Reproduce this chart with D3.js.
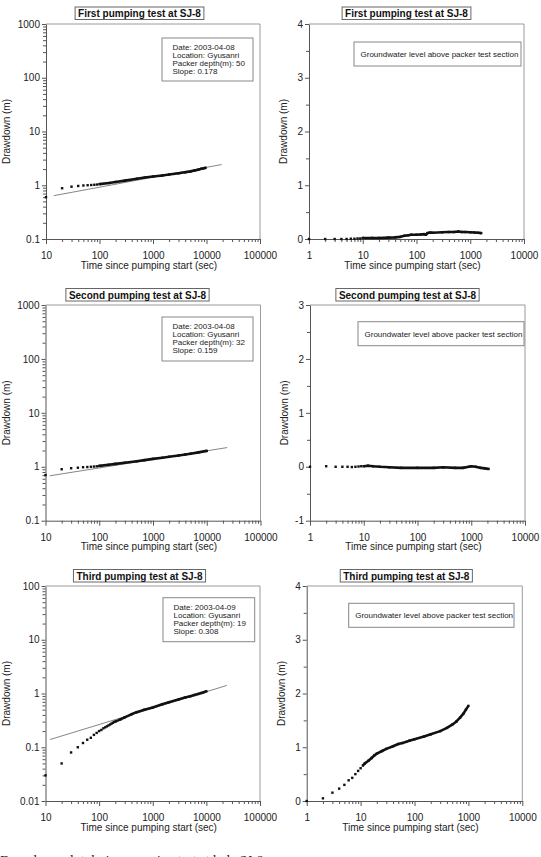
<!DOCTYPE html>
<html><head><meta charset="utf-8">
<script src="https://cdn.jsdelivr.net/npm/d3@7"></script>
<style>body{margin:0;background:#fff}svg{display:block}</style>
</head><body>
<svg id="c" width="541" height="857"></svg>
<script>
// ---------- data ----------
const panelTitles = ["First pumping test at SJ-8", "Second pumping test at SJ-8", "Third pumping test at SJ-8"];
const infoLines = [
  ["Date: 2003-04-08", "Location: Gyusanri", "Packer depth(m): 50", "Slope: 0.178"],
  ["Date: 2003-04-08", "Location: Gyusanri", "Packer depth(m): 32", "Slope: 0.159"],
  ["Date: 2003-04-09", "Location: Gyusanri", "Packer depth(m): 19", "Slope: 0.308"]
];
const legendText = "Groundwater level above packer test section";
const xTitle = "Time since pumping start (sec)";
const yTitle = "Drawdown (m)";
const caption = "Drawdown plot during pumping test at hole SJ-8";

const xTicksTest = [10, 100, 1000, 10000, 100000];
const xTicksGw = [1, 10, 100, 1000, 10000];
const yTicksTest1 = [0.1, 1, 10, 100, 1000];
const yTicksTest2 = [0.1, 1, 10, 100, 1000];
const yTicksTest3 = [0.01, 0.1, 1, 10, 100];
const yTicksGw1 = [0, 1, 2, 3, 4];
const yTicksGw2 = [-1, 0, 1, 2, 3];
const yTicksGw3 = [0, 1, 2, 3, 4];

// [time (sec), drawdown (m)]
const test1Early = [[10,0.6],[20,0.88],[30,0.94],[40,0.97],[50,0.99],[60,1.0],[70,1.01],[80,1.02],[90,1.03]];
const test1Main = [[100,1.05],[150,1.1],[200,1.15],[300,1.22],[500,1.32],[700,1.39],[1000,1.45],[1500,1.52],[2000,1.58],[3000,1.67],[4000,1.74],[5000,1.8],[6000,1.88],[7000,1.95],[8000,2.02],[9000,2.08],[9600,2.11]];
const test1Fit = [[14,0.64],[19200,2.43]];

const test2Early = [[10,0.7],[20,0.9],[30,0.94],[40,0.96],[50,0.98],[60,0.99],[70,1.0],[80,1.01],[90,1.02]];
const test2Main = [[100,1.04],[150,1.09],[200,1.13],[300,1.19],[500,1.27],[700,1.33],[1000,1.4],[1500,1.47],[2000,1.53],[3000,1.62],[4000,1.69],[5000,1.75],[7000,1.85],[10000,1.97]];
const test2Fit = [[12,0.68],[24000,2.27]];

const test3Early = [[10,0.03],[20,0.05],[30,0.08],[40,0.1],[50,0.12],[60,0.138],[70,0.15],[80,0.17],[90,0.185],[100,0.2],[110,0.21],[120,0.225],[130,0.235],[140,0.245],[150,0.255],[160,0.265],[170,0.275],[180,0.285],[190,0.295]];
const test3Main = [[200,0.3],[250,0.33],[300,0.36],[400,0.41],[500,0.45],[700,0.5],[1000,0.55],[1500,0.63],[2000,0.69],[3000,0.77],[4000,0.84],[5000,0.89],[6000,0.94],[7000,0.98],[8000,1.02],[9000,1.06],[10000,1.1]];
const test3Fit = [[12.1,0.139],[24000,1.41]];

const gw1Early = [[1,0],[2,0],[3,0],[4,0],[5,0],[6,0.005],[7,0.005],[8,0.01],[9,0.01]];
const gw1Main = [[10,0.02],[15,0.02],[20,0.02],[30,0.025],[40,0.03],[50,0.04],[60,0.06],[70,0.07],[80,0.08],[100,0.08],[120,0.085],[140,0.09],[150,0.08],[160,0.11],[180,0.12],[200,0.115],[300,0.125],[400,0.13],[500,0.13],[600,0.14],[700,0.13],[800,0.13],[1000,0.125],[1200,0.12],[1400,0.115],[1600,0.11]];

const gw2Early = [[1,0],[2,0.01],[3,0],[4,0],[5,0],[6,-0.005],[7,0],[8,0.005],[9,0.01]];
const gw2Main = [[10,0.01],[12,0.02],[15,0.01],[20,0],[30,-0.01],[50,-0.02],[100,-0.02],[200,-0.02],[300,-0.01],[500,-0.02],[700,-0.02],[900,0],[1000,0.01],[1200,0],[1500,-0.02],[1800,-0.03],[2100,-0.04]];

const gw3Early = [[1,0],[2,0.05],[3,0.155],[4,0.23],[5,0.3],[6,0.385],[7,0.43],[8,0.5],[9,0.56],[10,0.61]];
const gw3Main = [[11,0.66],[12,0.7],[14,0.75],[16,0.8],[18,0.85],[20,0.88],[25,0.93],[30,0.97],[40,1.02],[50,1.06],[60,1.08],[70,1.1],[80,1.12],[100,1.15],[150,1.2],[200,1.24],[300,1.3],[400,1.36],[500,1.42],[600,1.48],[700,1.55],[800,1.62],[900,1.7],[1000,1.77]];

// ---------- drawing ----------
const FONT = "'Liberation Sans', Arial, sans-serif";
const svg = d3.select("#c");
svg.append("rect").attr("width", 541).attr("height", 857).attr("fill", "#fff");

function panel(o) {
  const r = o.rect;
  const g = svg.append("g");
  const x = d3.scaleLog().domain([o.xTicks[0], o.xTicks[o.xTicks.length - 1]]).range([r.x0, r.x1]);
  const y = (o.yLog ? d3.scaleLog() : d3.scaleLinear())
    .domain([o.yTicks[0], o.yTicks[o.yTicks.length - 1]]).range([r.y1, r.y0]);

  // frame (top and right)
  g.append("path").attr("d", `M${r.x0},${r.y0}H${r.x1}V${r.y1}`)
    .attr("fill", "none").attr("stroke", "#9a9a9a").attr("stroke-width", 1);

  // minor ticks
  const xMinor = [];
  o.xTicks.slice(0, -1).forEach(d => { for (let k = 2; k < 10; k++) xMinor.push(d * k); });
  let yMinor = [];
  if (o.yLog) o.yTicks.slice(0, -1).forEach(d => { for (let k = 2; k < 10; k++) yMinor.push(d * k); });
  else yMinor = o.yTicks.slice(0, -1).map(d => d + 0.5);

  const styleAxis = sel => {
    sel.selectAll("path.domain").attr("stroke", "#555");
    sel.selectAll(".tick line").attr("stroke", "#555");
    sel.selectAll(".tick text").attr("fill", "#222").style("font-family", FONT).style("font-size", "10px");
  };

  g.append("g").attr("transform", `translate(0,${r.y1})`)
    .call(d3.axisBottom(x).tickValues(xMinor).tickSize(3).tickSizeOuter(0).tickFormat(""))
    .call(s => s.select("path.domain").remove()).call(styleAxis);
  g.append("g").attr("transform", `translate(0,${r.y1})`)
    .call(d3.axisBottom(x).tickValues(o.xTicks).tickSize(5).tickSizeOuter(0).tickPadding(8).tickFormat(d => String(d)))
    .call(styleAxis);

  g.append("g").attr("transform", `translate(${r.x0},0)`)
    .call(d3.axisLeft(y).tickValues(yMinor).tickSize(3).tickSizeOuter(0).tickFormat(""))
    .call(s => s.select("path.domain").remove()).call(styleAxis);
  g.append("g").attr("transform", `translate(${r.x0},0)`)
    .call(d3.axisLeft(y).tickValues(o.yTicks).tickSize(4).tickSizeOuter(0).tickPadding(2).tickFormat(d => String(d)))
    .call(styleAxis);

  // axis titles
  g.append("text").attr("x", (r.x0 + r.x1) / 2 - 4).attr("y", r.y1 + 29.5)
    .attr("text-anchor", "middle").style("font-family", FONT).style("font-size", "10px").attr("fill", "#222")
    .text(xTitle);
  g.append("text").attr("transform", `translate(${o.yTitleX},${(r.y0 + r.y1) / 2}) rotate(-90)`)
    .attr("text-anchor", "middle").style("font-family", FONT).style("font-size", "10px").attr("fill", "#222")
    .text(yTitle);

  // fitted line
  if (o.fit) {
    g.append("path").datum(o.fit)
      .attr("d", d3.line().x(d => x(d[0])).y(d => y(d[1])))
      .attr("fill", "none").attr("stroke", "#777").attr("stroke-width", 0.9);
  }

  // data: dense part as thick line, all points as dots
  g.append("path").datum(o.main)
    .attr("d", d3.line().x(d => x(d[0])).y(d => y(d[1])))
    .attr("fill", "none").attr("stroke", "#111").attr("stroke-width", 2.6).attr("stroke-linejoin", "round");
  g.selectAll("rect.pt").data(o.early.concat(o.main)).join("rect").attr("class", "pt")
    .attr("x", d => x(d[0]) - 1.2).attr("y", d => y(d[1]) - 1.2)
    .attr("width", 2.4).attr("height", 2.4).attr("fill", "#111");

  // title box
  const tb = o.titleBox;
  const tt = g.append("text").attr("x", tb.cx).attr("y", tb.y + 10)
    .attr("text-anchor", "middle").style("font-family", FONT).style("font-size", "10px")
    .style("font-weight", "bold").attr("fill", "#111").text(o.title);
  const tw = tt.node().getComputedTextLength();
  g.insert("rect", () => tt.node()).attr("x", tb.cx - tw / 2 - 3).attr("y", tb.y)
    .attr("width", tw + 6).attr("height", 12.5).attr("fill", "#fff").attr("stroke", "#666").attr("stroke-width", 1);

  // info box
  if (o.info) {
    const b = o.infoBox;
    g.append("rect").attr("x", b.x).attr("y", b.y).attr("width", b.w).attr("height", b.h)
      .attr("fill", "#fff").attr("stroke", "#888").attr("stroke-width", 1);
    o.info.forEach((line, i) => {
      g.append("text").attr("x", b.x + 10.5).attr("y", b.y + 12 + i * 8.1)
        .style("font-family", FONT).style("font-size", "8px").attr("fill", "#222").text(line);
    });
  }
  // legend box
  if (o.legend) {
    const b = o.legendBox;
    g.append("rect").attr("x", b.x).attr("y", b.y).attr("width", b.w).attr("height", b.h)
      .attr("fill", "#fff").attr("stroke", "#888").attr("stroke-width", 1);
    g.append("text").attr("x", b.x + 6.5).attr("y", b.y + b.h / 2 + 3)
      .style("font-family", FONT).style("font-size", "8px").attr("fill", "#222").text(o.legend);
  }
}

panel({ rect: {x0:46, x1:260, y0:24, y1:239}, xTicks: xTicksTest, yTicks: yTicksTest1, yLog: true,
  early: test1Early, main: test1Main, fit: test1Fit, title: panelTitles[0], titleBox: {cx:139.5, y:7},
  info: infoLines[0], infoBox: {x:162, y:38, w:91, h:43}, yTitleX: 10 });
panel({ rect: {x0:309, x1:524, y0:24, y1:239}, xTicks: xTicksGw, yTicks: yTicksGw1, yLog: false,
  early: gw1Early, main: gw1Main, title: panelTitles[0], titleBox: {cx:406.5, y:7},
  legend: legendText, legendBox: {x:354, y:42, w:167, h:24}, yTitleX: 287 });

panel({ rect: {x0:45.5, x1:260.5, y0:305, y1:520.7}, xTicks: xTicksTest, yTicks: yTicksTest2, yLog: true,
  early: test2Early, main: test2Main, fit: test2Fit, title: panelTitles[1], titleBox: {cx:137.5, y:288.5},
  info: infoLines[1], infoBox: {x:162, y:317, w:91, h:44}, yTitleX: 9.5 });
panel({ rect: {x0:310, x1:525, y0:305, y1:520.7}, xTicks: xTicksGw, yTicks: yTicksGw2, yLog: false,
  early: gw2Early, main: gw2Main, title: panelTitles[1], titleBox: {cx:407.5, y:288.5},
  legend: legendText, legendBox: {x:358, y:321.7, w:166, h:24}, yTitleX: 288 });

panel({ rect: {x0:45.5, x1:260, y0:586, y1:801}, xTicks: xTicksTest, yTicks: yTicksTest3, yLog: true,
  early: test3Early, main: test3Main, fit: test3Fit, title: panelTitles[2], titleBox: {cx:139.5, y:569.5},
  info: infoLines[2], infoBox: {x:163, y:597.7, w:91.7, h:44}, yTitleX: 9.5 });
panel({ rect: {x0:306.7, x1:522.3, y0:586, y1:801}, xTicks: xTicksGw, yTicks: yTicksGw3, yLog: false,
  early: gw3Early, main: gw3Main, title: panelTitles[2], titleBox: {cx:406.3, y:569.5},
  legend: legendText, legendBox: {x:348.7, y:603.3, w:165.3, h:24}, yTitleX: 284.5 });

// caption (cut off at the bottom edge)
svg.append("text").attr("x", 0).attr("y", 864)
  .style("font-family", "'Liberation Serif', 'Times New Roman', serif").style("font-size", "13.5px")
  .attr("fill", "#111").text(caption);
</script>
</body></html>
